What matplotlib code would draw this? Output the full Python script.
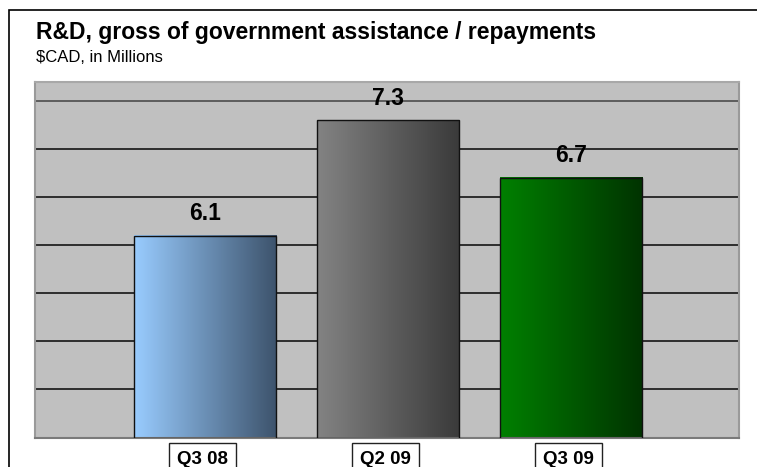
import matplotlib
matplotlib.use("Agg")
import matplotlib.pyplot as plt
import numpy as np
from matplotlib.colors import LinearSegmentedColormap
from matplotlib.patches import Rectangle
from matplotlib.transforms import blended_transform_factory

plt.rcParams["font.family"] = ["Liberation Sans", "DejaVu Sans"]

# --- data ------------------------------------------------------------------
categories = ["Q3 08", "Q2 09", "Q3 09"]
values = [6.1, 7.3, 6.7]
value_labels = ["6.1", "7.3", "6.7"]
gradients = [("#99ccff", "#3d536c"),
             ("#838383", "#3a3a3a"),
             ("#008000", "#003300")]

W, H = 757, 467
fig = plt.figure(figsize=(W / 100, H / 100), dpi=100)

# plot area (pixel layout)
left, right, top, bottom = 35, 739, 82, 438
ax = fig.add_axes([left / W, 1 - bottom / H, (right - left) / W, (bottom - top) / H])
ax.set_facecolor("#c0c0c0")

# horizontal gridlines every 0.5
for yv in np.arange(4.5, 7.51, 0.5):
    col = "#555555" if yv > 7.4 else "#222222"
    ax.axhline(yv, color=col, lw=1.3, zorder=1)

ax.set_xticks([])
ax.set_yticks([])
for side, col in [("left", "#9a9a9a"), ("top", "#a8a8a8"),
                  ("right", "#9a9a9a"), ("bottom", "#7a7a7a")]:
    ax.spines[side].set_color(col)
    ax.spines[side].set_linewidth(1.5)

ax.set_ylim(3.99, 7.70)

# gradient bars
width = 0.776
grad = np.linspace(0, 1, 256).reshape(1, -1)
base = ax.get_ylim()[0]
for i, (v, (c0, c1)) in enumerate(zip(values, gradients)):
    cmap = LinearSegmentedColormap.from_list(f"g{i}", [c0, c1])
    x0, x1 = i - width / 2, i + width / 2
    ax.imshow(grad, cmap=cmap, extent=[x0, x1, base, v], aspect="auto",
              interpolation="bicubic", zorder=2)
    ax.add_patch(Rectangle((x0, base), width, v - base, fill=False,
                           edgecolor="#111111", lw=1.0, zorder=3))
    ax.annotate(value_labels[i], (i, v), xytext=(0, 16), textcoords="offset points",
                ha="center", va="center", fontsize=16.5, fontweight="bold", zorder=4)

# category labels in boxes below the plot area
trans = blended_transform_factory(ax.transData, ax.transAxes)
for i, cat in enumerate(categories):
    ax.text(i - 0.015, -0.073, cat, transform=trans, ha="center", va="baseline",
            fontsize=13.5, fontweight="bold", clip_on=False,
            bbox=dict(boxstyle="square,pad=0.42", fc="white", ec="#222222", lw=1.0))

# title and subtitle
fig.text(36 / W, 1 - 39 / H, "R&D, gross of government assistance / repayments",
         fontsize=16.5, fontweight="bold", ha="left", va="baseline")
fig.text(36 / W, 1 - 62 / H, "$CAD, in Millions", fontsize=12,
         ha="left", va="baseline")

# outer frame (runs off the right and bottom edge like the reference)
fig.patches.append(Rectangle((9 / W, -0.05), 1.1, 1 - 10 / H + 0.05,
                             transform=fig.transFigure, fill=False,
                             edgecolor="black", lw=1.2, zorder=0))

ax.set_xlim(-0.929, 2.918)
ax.set_ylim(3.99, 7.70)
fig.savefig("out.png", dpi=100)
